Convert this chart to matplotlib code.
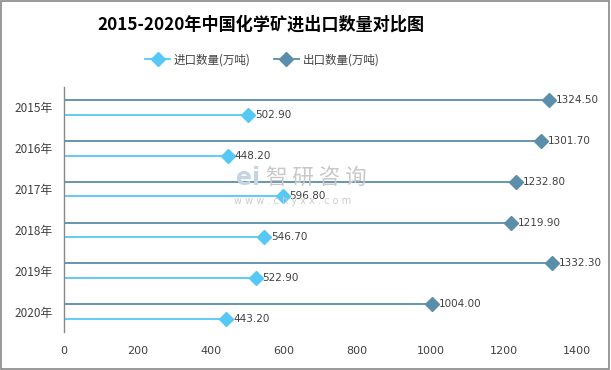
import matplotlib
matplotlib.use("Agg")
import matplotlib.pyplot as plt
import numpy as np
from matplotlib.patches import Rectangle
from matplotlib.lines import Line2D
from matplotlib.legend_handler import HandlerLine2D

plt.rcParams['font.family'] = ['Noto Sans CJK SC', 'DejaVu Sans']

years = ['2015年', '2016年', '2017年', '2018年', '2019年', '2020年']
imports = [502.9, 448.2, 596.8, 546.7, 522.9, 443.2]
exports = [1324.5, 1301.7, 1232.8, 1219.9, 1332.3, 1004.0]
x_ticks = [0, 200, 400, 600, 800, 1000, 1200, 1400]
title = '2015-2020年中国化学矿进出口数量对比图'
name_imp = '进口数量(万吨)'
name_exp = '出口数量(万吨)'

c_imp = '#55c8f5'
c_exp = '#5a8eaa'
txt = '#404040'


class RightMarkerHandler(HandlerLine2D):
    def get_xdata(self, legend, xdescent, ydescent, width, height, fontsize):
        xdata = np.array([-xdescent, -xdescent + width], float)
        xmark = np.array([-xdescent + width * 0.92], float)
        return xdata, xmark


fig = plt.figure(figsize=(6.11, 3.70), dpi=100)
ax = fig.add_axes([64/611, 1-332/370, (577-64)/611, (332-87)/370])

off = 0.18
for i, (vi, ve) in enumerate(zip(imports, exports)):
    ye = i - off
    yi = i + off
    ax.plot([0, ve], [ye, ye], color=c_exp, lw=1.3, zorder=2)
    ax.plot([ve], [ye], marker='D', color=c_exp, ms=7.5, zorder=3, ls='none')
    ax.text(ve + 18, ye, f'{ve:.2f}', va='center', ha='left', fontsize=7.5,
            color=txt, family=['DejaVu Sans'], zorder=4)
    ax.plot([0, vi], [yi, yi], color=c_imp, lw=1.3, zorder=2)
    ax.plot([vi], [yi], marker='D', color=c_imp, ms=7.5, zorder=3, ls='none')
    ax.text(vi + 18, yi, f'{vi:.2f}', va='center', ha='left', fontsize=7.5,
            color=txt, family=['DejaVu Sans'], zorder=4)

ax.set_xlim(0, 1400)
ax.set_ylim(5.5, -0.5)
ax.set_yticks(range(len(years)))
ax.set_yticklabels(years, fontsize=8.5, color=txt)
ax.set_xticks(x_ticks)
ax.set_xticklabels([str(t) for t in x_ticks], fontsize=8, color=txt, family=['DejaVu Sans'])
ax.tick_params(axis='both', length=0)
ax.tick_params(axis='y', pad=8)
ax.tick_params(axis='x', pad=10)
for s in ['top', 'right', 'bottom']:
    ax.spines[s].set_visible(False)
ax.spines['left'].set_color('#888888')
ax.spines['left'].set_linewidth(1.0)

# watermark
fig.text(236/611, 1-178/370, 'ei', fontsize=17, color='#c5d3e3', ha='left', va='center',
         fontweight='bold', family=['DejaVu Sans'], zorder=0)
fig.text(266/611, 1-178/370, '智 研 咨 询', fontsize=15.5, color='#c8c8c8', ha='left',
         va='center', zorder=0)
fig.text(234/611, 1-201/370, 'w w w . c h y x x . c o m', fontsize=7, color='#cccccc',
         ha='left', va='center', zorder=0, family=['DejaVu Sans'])

fig.text(261/611, 1-25/370, title, ha='center', va='center', fontsize=12.3,
         fontweight='bold', color='black')

handles = [Line2D([], [], color=c_imp, marker='D', ms=7.5, lw=1.3),
           Line2D([], [], color=c_exp, marker='D', ms=7.5, lw=1.3)]
fig.legend(handles, [name_imp, name_exp], loc='center', bbox_to_anchor=(262/611, 1-60/370),
           ncol=2, frameon=False, fontsize=8.3, labelcolor=txt, numpoints=1,
           handlelength=2.2, columnspacing=2.0, handletextpad=0.3,
           handler_map={Line2D: RightMarkerHandler()})

fig.patches.append(Rectangle((0.002, 0.003), 0.995, 0.993, transform=fig.transFigure,
                             fill=False, edgecolor='#888888', lw=1.2))

fig.savefig('out.png', dpi=100)
